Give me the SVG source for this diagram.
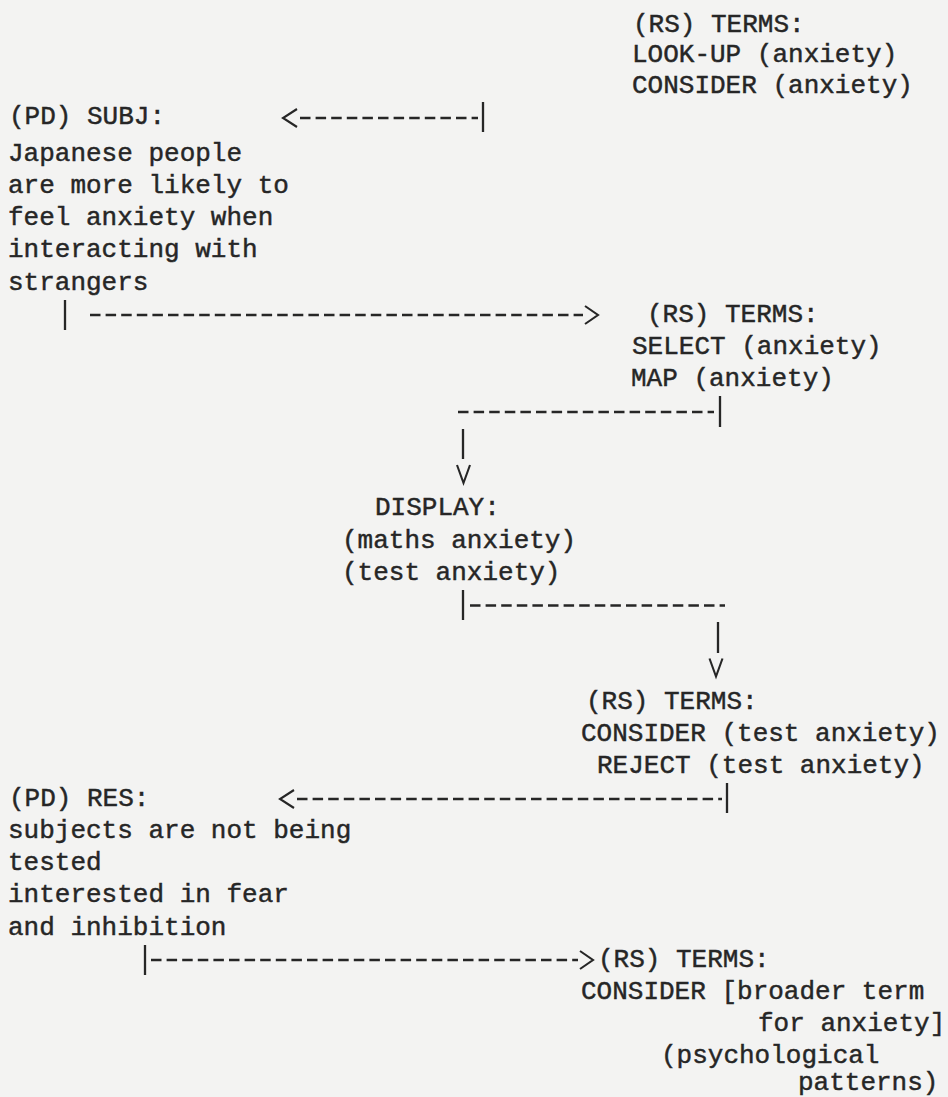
<svg xmlns="http://www.w3.org/2000/svg" width="948" height="1097" viewBox="0 0 948 1097">
<defs>
<style>
.t{font-family:"Liberation Mono","DejaVu Sans Mono",monospace;font-size:26px;fill:#262626;stroke:#262626;stroke-width:0.45}
.dash{stroke:#262626;stroke-width:2.3;fill:none;stroke-dasharray:10.5 5.1}
.bar{stroke:#262626;stroke-width:2.3;fill:none}
.head{stroke:#262626;stroke-width:2.1;fill:none;stroke-linejoin:miter}
</style>
</defs>
<rect width="948" height="1097" fill="#f3f3f2"/>
<g id="connectors">
<path class="head" d="M297,109 L283,118 L297,127"/>
<path class="dash" d="M300,118 H478"/>
<path class="bar" d="M483,102 V132"/>
<path class="bar" d="M65,300 V330"/>
<path class="dash" d="M90,315 H583"/>
<path class="head" d="M585,306 L598,315 L585,324"/>
<path class="dash" d="M458,412 H714"/>
<path class="bar" d="M720,396 V427"/>
<path class="bar" d="M463,429 V459"/>
<path class="head" d="M457,465 L463.5,483 L470,465"/>
<path class="bar" d="M463,590 V620"/>
<path class="dash" d="M470,605.5 H725"/>
<path class="bar" d="M718,622 V653"/>
<path class="head" d="M709.5,658.5 L716,676.5 L722.5,658.5"/>
<path class="head" d="M294,790 L280,799 L294,808"/>
<path class="dash" d="M297,799 H722"/>
<path class="bar" d="M727,783 V813"/>
<path class="bar" d="M145,945 V975"/>
<path class="dash" d="M151,960 H578"/>
<path class="head" d="M580,951 L593,960 L580,969"/>
</g>
<g id="rs1">
<text class="t" x="633" y="31.7">(RS) TERMS:</text>
<text class="t" x="632" y="62">LOOK-UP (anxiety)</text>
<text class="t" x="632" y="93">CONSIDER (anxiety)</text>
</g>
<g id="subj">
<text class="t" x="9" y="124">(PD) SUBJ:</text>
<text class="t" x="8" y="160.5">Japanese people</text>
<text class="t" x="8" y="192.75">are more likely to</text>
<text class="t" x="8" y="225">feel anxiety when</text>
<text class="t" x="8" y="257.25">interacting with</text>
<text class="t" x="8" y="289.5">strangers</text>
</g>
<g id="rs2">
<text class="t" x="647" y="321.75">(RS) TERMS:</text>
<text class="t" x="632" y="354">SELECT (anxiety)</text>
<text class="t" x="631" y="386.25">MAP (anxiety)</text>
</g>
<g id="display">
<text class="t" x="375" y="515.25">DISPLAY:</text>
<text class="t" x="342" y="547.5">(maths anxiety)</text>
<text class="t" x="342" y="579.75">(test anxiety)</text>
</g>
<g id="rs3">
<text class="t" x="586" y="708.75">(RS) TERMS:</text>
<text class="t" x="581" y="741">CONSIDER (test anxiety)</text>
<text class="t" x="597" y="773.25">REJECT (test anxiety)</text>
</g>
<g id="res">
<text class="t" x="9" y="805.5">(PD) RES:</text>
<text class="t" x="8" y="837.75">subjects are not being</text>
<text class="t" x="8" y="870">tested</text>
<text class="t" x="8" y="902.25">interested in fear</text>
<text class="t" x="8" y="934.5">and inhibition</text>
</g>
<g id="rs4">
<text class="t" x="598" y="966.75">(RS) TERMS:</text>
<text class="t" x="581" y="999">CONSIDER [broader term</text>
<text class="t" x="758" y="1031">for anxiety]</text>
<text class="t" x="661" y="1062.5">(psychological</text>
<text class="t" x="798" y="1090">patterns)</text>
</g>
</svg>
